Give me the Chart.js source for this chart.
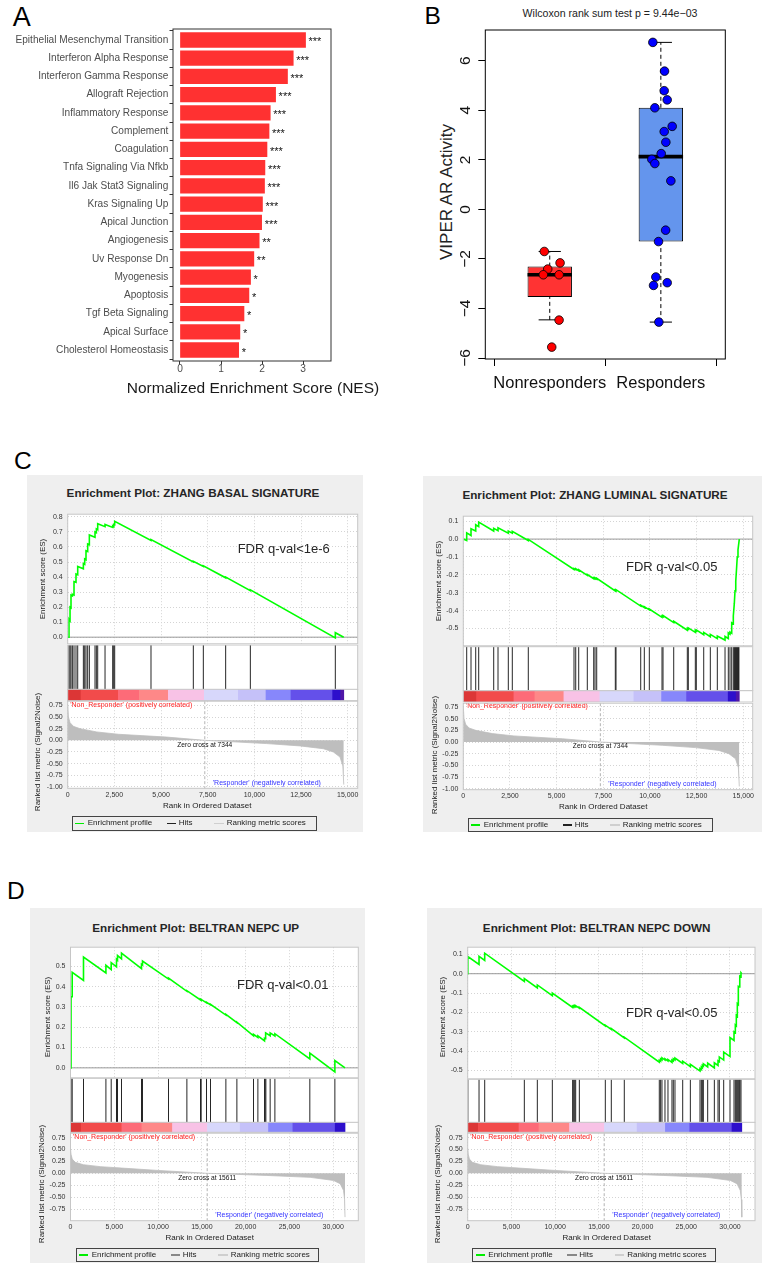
<!DOCTYPE html>
<html><head><meta charset="utf-8">
<script src="https://cdn.jsdelivr.net/npm/chart.js@4.4.1/dist/chart.umd.min.js"></script>
<style>
html,body{margin:0;padding:0;background:#fff;}
#root{position:relative;width:762px;height:1263px;overflow:hidden;font-family:"Liberation Sans",Arial,Helvetica,sans-serif;}
canvas{position:absolute;}
.t{position:absolute;white-space:nowrap;line-height:1;transform:translate(-50%,-50%);}
.bg{position:absolute;background:#efefef;}
.lg{position:absolute;border:1px solid #444;box-sizing:border-box;}
.lg .ln{position:absolute;height:1.6px;width:9.3px;top:50%;margin-top:-0.8px;}
.lg .lt{position:absolute;top:50%;transform:translateY(-50%);font-size:8px;line-height:1;color:#222;white-space:nowrap;}
</style></head><body><div id="root"></div>
<script>
// ---------------- DATA ----------------
const NES_CATEGORIES = ['Epithelial Mesenchymal Transition','Interferon Alpha Response','Interferon Gamma Response','Allograft Rejection','Inflammatory Response','Complement','Coagulation','Tnfa Signaling Via Nfkb','Il6 Jak Stat3 Signaling','Kras Signaling Up','Apical Junction','Angiogenesis','Uv Response Dn','Myogenesis','Apoptosis','Tgf Beta Signaling','Apical Surface','Cholesterol Homeostasis'];
const NES_VALUES = [3.06,2.76,2.62,2.33,2.20,2.17,2.12,2.07,2.06,2.01,1.99,1.93,1.80,1.72,1.68,1.56,1.46,1.43];
const NES_STARS = ['***','***','***','***','***','***','***','***','***','***','***','**','**','*','*','*','*','*'];
const NES_TICKS = [0,1,2,3];

const GROUPS = ['Nonresponders','Responders'];
const VIPER_TICKS = [-6,-4,-2,0,2,4,6];
// [jittered x, VIPER AR activity]
const NONRESP_POINTS = [[0.951,-1.70],[1.093,-2.16],[0.982,-2.41],[0.942,-2.64],[1.084,-2.64],[1.084,-4.47],[1.018,-5.56]];
const RESP_POINTS = [[1.928,6.74],[2.033,5.58],[2.030,4.79],[2.057,4.42],[1.946,4.10],[2.102,3.35],[2.030,3.14],[2.045,2.71],[2.003,2.25],[1.919,2.02],[1.946,1.85],[2.090,1.15],[2.043,-0.84],[1.979,-1.30],[1.955,-2.73],[1.934,-3.07],[2.057,-2.96],[1.982,-4.55]];
// [lower whisker, Q1, median, Q3, upper whisker]
const NONRESP_BOX = [-4.46,-3.54,-2.64,-2.31,-1.70];
const RESP_BOX = [-4.55,-1.30,2.13,4.10,6.74];

// GSEA running enrichment score: [rank, ES]
const BASAL_ES = [[0,0],[70,0],[70,0.12],[125,0.11],[125,0.2],[177,0.195],[177,0.28],[250,0.275],[250,0.285],[338,0.28],[338,0.37],[445,0.365],[445,0.42],[536,0.415],[536,0.47],[839,0.455],[839,0.49],[911,0.485],[911,0.52],[980,0.515],[980,0.575],[1070,0.57],[1070,0.62],[1160,0.615],[1160,0.68],[1463,0.665],[1463,0.7],[1535,0.695],[1535,0.72],[1607,0.715],[1607,0.755],[2000,0.735],[2000,0.75],[2410,0.73],[2410,0.74],[2464,0.735],[2464,0.75],[2517,0.748],[2517,0.77],[4462,0.643],[4462,0.65],[6730,0.5],[6730,0.505],[7266,0.47],[7266,0.475],[8462,0.395],[8462,0.4],[9785,0.31],[9785,0.315],[14337,-0.005],[14337,0.03],[14786,0]];
const BASAL_HITS = [70,125,177,250,338,445,536,839,911,980,1070,1160,1463,1535,1607,2000,2410,2464,2517,4462,6730,7266,8462,9785,14337];

const LUMINAL_ES = [[0,0],[182,-0.008],[182,0.035],[413,0.02],[413,0.058],[665,0.045],[665,0.08],[825,0.07],[825,0.095],[1629,0.045],[1629,0.06],[1860,0.047],[1860,0.063],[2412,0.033],[2412,0.045],[2626,0.033],[2626,0.043],[3483,-0.008],[3483,-0.002],[5932,-0.17],[5932,-0.165],[6024,-0.171],[6024,-0.166],[6184,-0.177],[6184,-0.172],[6645,-0.203],[6645,-0.198],[6988,-0.222],[6988,-0.217],[7058,-0.222],[7058,-0.217],[7149,-0.224],[7149,-0.219],[8146,-0.29],[8146,-0.285],[8183,-0.288],[8183,-0.283],[9507,-0.375],[9507,-0.37],[9700,-0.383],[9700,-0.378],[9968,-0.396],[9968,-0.391],[10648,-0.438],[10648,-0.43],[10702,-0.434],[10702,-0.428],[11275,-0.467],[11275,-0.46],[12004,-0.51],[12004,-0.5],[12058,-0.504],[12058,-0.497],[12433,-0.522],[12433,-0.511],[12486,-0.515],[12486,-0.508],[12883,-0.535],[12883,-0.522],[13237,-0.546],[13237,-0.533],[13612,-0.557],[13612,-0.542],[14025,-0.565],[14025,-0.545],[14201,-0.556],[14201,-0.525],[14292,-0.532],[14292,-0.52],[14383,-0.527],[14383,-0.468],[14469,-0.474],[14469,-0.43],[14523,-0.36],[14560,-0.29],[14600,-0.235],[14640,-0.17],[14680,-0.1],[14720,-0.06],[14760,-0.025],[14790,0]];
const LUMINAL_HITS = [182,413,665,825,1629,1860,2412,2626,3483,5932,6024,6184,6645,6988,7058,7149,8146,8183,9507,9700,9968,10648,10702,11275,12004,12058,12433,12486,12883,13237,13612,14025,14201,14292,14383,14469,14523,14548,14573,14598,14623,14648,14673,14698,14723,14748,14770];

const NEPC_UP_ES = [[0,0],[60,0],[60,0.35],[194,0.35],[194,0.47],[1485,0.43],[1485,0.545],[4043,0.467],[4043,0.505],[4648,0.484],[4648,0.518],[5253,0.497],[5253,0.535],[5367,0.53],[5367,0.553],[5824,0.537],[5824,0.565],[8108,0.489],[8108,0.51],[8222,0.507],[8222,0.526],[11192,0.437],[11192,0.442],[13290,0.377],[13290,0.38],[14846,0.334],[14846,0.337],[14922,0.334],[14922,0.337],[15531,0.32],[15531,0.323],[15988,0.31],[15988,0.313],[17743,0.26],[17743,0.263],[19000,0.222],[19000,0.225],[20899,0.158],[20899,0.165],[21398,0.15],[21398,0.158],[22155,0.133],[22155,0.145],[22230,0.143],[22230,0.16],[22310,0.158],[22310,0.172],[22800,0.158],[22800,0.172],[23340,0.157],[23340,0.168],[27330,0.044],[27330,0.073],[30190,-0.02],[30190,0.036],[31350,0]];
const NEPC_UP_HITS = [60,194,1485,4043,4648,5253,5367,5824,8108,8222,11192,13290,14846,14922,15531,15988,17743,19000,20899,21398,22155,22230,22310,22800,23340,27330,30190];

const NEPC_DOWN_ES = [[0,0],[20,0],[20,0.089],[1296,0.048],[1296,0.09],[1944,0.069],[1944,0.106],[6477,-0.04],[6477,-0.025],[7964,-0.073],[7964,-0.058],[9680,-0.113],[9680,-0.1],[12000,-0.174],[12000,-0.168],[12120,-0.172],[12120,-0.166],[12237,-0.17],[12237,-0.165],[12350,-0.169],[12350,-0.165],[12770,-0.178],[12770,-0.174],[15740,-0.27],[15740,-0.266],[16425,-0.288],[16425,-0.284],[17910,-0.332],[17910,-0.328],[21914,-0.457],[21914,-0.447],[22067,-0.452],[22067,-0.44],[22220,-0.445],[22220,-0.435],[22563,-0.446],[22563,-0.44],[22906,-0.451],[22906,-0.443],[23363,-0.458],[23363,-0.446],[23516,-0.451],[23516,-0.44],[23707,-0.446],[23707,-0.436],[24590,-0.464],[24590,-0.452],[25466,-0.48],[25466,-0.468],[26570,-0.503],[26570,-0.49],[26723,-0.495],[26723,-0.482],[26838,-0.486],[26838,-0.474],[26952,-0.478],[26952,-0.466],[27448,-0.482],[27448,-0.462],[28210,-0.487],[28210,-0.46],[28630,-0.474],[28630,-0.45],[28780,-0.455],[28780,-0.43],[29278,-0.446],[29278,-0.405],[30000,-0.428],[30000,-0.33],[30460,-0.345],[30460,-0.3],[30610,-0.305],[30610,-0.265],[30724,-0.27],[30724,-0.215],[30838,-0.22],[30838,-0.155],[30953,-0.16],[30953,-0.065],[31067,-0.068],[31067,-0.045],[31143,-0.047],[31143,-0.012],[31258,-0.015],[31258,0.005],[31350,0]];
const NEPC_DOWN_HITS = [20,1296,1944,6477,7964,9680,12000,12120,12237,12350,12770,15740,16425,17910,21914,22067,22220,22563,22906,23363,23516,23707,24590,25466,26570,26723,26838,26952,27448,28210,28630,28780,29278,30000,30460,30610,30724,30838,30953,31067,31143,31258];

// Ranked list metric (Signal2Noise): [rank, metric]
const RANK_METRIC_C = [[0,0.75],[40,0.5],[125,0.38],[304,0.3],[661,0.25],[1554,0.18],[2712,0.13],[5302,0.07],[7344,0],[10660,-0.07],[12446,-0.12],[13696,-0.18],[14232,-0.25],[14590,-0.36],[14740,-0.55],[14790,-0.95]];
const RANK_METRIC_D = [[0,0.52],[60,0.4],[194,0.3],[537,0.23],[1488,0.18],[3391,0.14],[5866,0.11],[10005,0.06],[15611,0],[22420,-0.045],[27375,-0.085],[30040,-0.15],[30800,-0.22],[31180,-0.36],[31300,-0.55],[31350,-0.92]];
const ZERO_CROSS_C = 7344;
const ZERO_CROSS_D = 15611;
const RANK_TICKS_C = [0,2500,5000,7500,10000,12500,15000];
const RANK_TICKS_D = [0,5000,10000,15000,20000,25000,30000];
// heat bar segment edges (rank) and colours
const COLORBAR_C_EDGES = [0,714,2712,3837,5391,7319,9141,10623,11962,14194,14623,14790];
const COLORBAR_D_EDGES = [0,1222,5868,8152,11648,15645,19380,22610,25397,30228,31350];
const COLORBAR_COLORS = ['#dc3636','#f24b4b','#fd6b78','#fe8888','#f8c2e6','#d7d7fb','#c5c1f9','#8787fb','#6450ea','#2d0fcc','#4f16a6'];

// ---------------- SETUP ----------------
const FONT = '"Liberation Sans", Arial, Helvetica, sans-serif';
Chart.defaults.font.family = FONT;
Chart.defaults.color = '#333';
Chart.defaults.animation = false;
Chart.defaults.responsive = false;
Chart.defaults.maintainAspectRatio = false;
Chart.defaults.devicePixelRatio = 1;
Chart.defaults.plugins.legend.display = false;
Chart.defaults.plugins.tooltip.enabled = false;
Chart.defaults.events = [];

const root = document.getElementById('root');
const fixTicks = arr => s => { s.ticks = arr.map(v => ({value: v})); };
function mk(b, cfg) {
  const c = document.createElement('canvas');
  c.width = b.w; c.height = b.h;
  c.style.left = b.x + 'px'; c.style.top = b.y + 'px';
  c.style.width = b.w + 'px'; c.style.height = b.h + 'px';
  root.appendChild(c);
  return new Chart(c.getContext('2d'), cfg);
}
function box(l, t, r, b, ml, mt, mr, mb) {
  const x = Math.floor(l - ml), y = Math.floor(t - mt);
  const w = Math.ceil(r + mr) - x, h = Math.ceil(b + mb) - y;
  return {x, y, w, h, L: l - x, T: t - y, R: x + w - r, B: y + h - b};
}
function T(str, cx, cy, size, o = {}) {
  const d = document.createElement('div');
  d.className = 't'; d.textContent = str;
  d.style.left = cx + 'px'; d.style.top = cy + 'px'; d.style.fontSize = size + 'px';
  d.style.color = o.color || '#222';
  if (o.bold) d.style.fontWeight = 'bold';
  if (o.rot) d.style.transform = 'translate(-50%,-50%) rotate(-90deg)';
  root.appendChild(d);
}
function BG(l, t, r, b) {
  const d = document.createElement('div');
  d.className = 'bg';
  d.style.left = l + 'px'; d.style.top = t + 'px';
  d.style.width = (r - l) + 'px'; d.style.height = (b - t) + 'px';
  root.appendChild(d);
}
function LEGEND(l, t, r, b, hitColor) {
  const d = document.createElement('div');
  d.className = 'lg';
  d.style.left = l + 'px'; d.style.top = t + 'px';
  d.style.width = (r - l) + 'px'; d.style.height = (b - t) + 'px';
  const items = [['#00ee00', 2.3, 'Enrichment profile', 15], [hitColor, 94, 'Hits', 106], ['#cfcfcf', 141.6, 'Ranking metric scores', 154]];
  items.forEach(([col, lx, txt, tx]) => {
    const ln = document.createElement('div'); ln.className = 'ln';
    ln.style.left = lx + 'px'; ln.style.background = col; d.appendChild(ln);
    const s = document.createElement('div'); s.className = 'lt';
    s.style.left = tx + 'px'; s.textContent = txt; d.appendChild(s);
  });
  root.appendChild(d);
}
const frame = (color, lw = 1) => ({
  id: 'frame',
  afterDraw(c) {
    const a = c.chartArea, x = c.ctx;
    x.save(); x.strokeStyle = color; x.lineWidth = lw;
    x.strokeRect(a.left, a.top, a.right - a.left, a.bottom - a.top);
    x.restore();
  }
});
const whiteBg = {
  id: 'whiteBg',
  beforeDraw(c) {
    const a = c.chartArea, x = c.ctx;
    x.save(); x.fillStyle = '#fff';
    x.fillRect(a.left, a.top, a.right - a.left, a.bottom - a.top);
    x.restore();
  }
};
const zeroLine = {
  id: 'zeroLine',
  beforeDatasetsDraw(c) {
    const a = c.chartArea, x = c.ctx, py = c.scales.y.getPixelForValue(0);
    x.save(); x.strokeStyle = '#9a9a9a'; x.lineWidth = 1;
    x.beginPath(); x.moveTo(a.left, py); x.lineTo(a.right, py); x.stroke();
    x.restore();
  }
};

// ---------------- PANEL A ----------------
T('A', 21.8, 16.7, 27, {color: '#000'});
const stars = {
  id: 'stars',
  afterDatasetsDraw(c) {
    const m = c.getDatasetMeta(0), x = c.ctx;
    x.save(); x.font = '11px ' + FONT; x.fillStyle = '#111';
    x.textBaseline = 'middle'; x.textAlign = 'left';
    m.data.forEach((el, i) => x.fillText(NES_STARS[i], el.x + 3, el.y + 2.5));
    x.restore();
  }
};
const aB = box(173, 29, 331, 361, 173, 29, 49, 39);
mk(aB, {
  type: 'bar',
  data: {datasets: [{data: NES_VALUES.map((v, i) => ({x: v, y: i})), backgroundColor: '#ff3131', barThickness: 14.7, borderWidth: 0}]},
  options: {
    indexAxis: 'y',
    layout: {padding: {left: 0, top: aB.T, right: aB.R, bottom: aB.B - 20}},
    scales: {
      x: {type: 'linear', min: -0.17, max: 3.68, afterBuildTicks: fixTicks(NES_TICKS),
        ticks: {padding: -1, font: {size: 10.2}, color: '#4d4d4d', maxRotation: 0},
        grid: {drawOnChartArea: false, tickLength: 3.5, color: '#333'}, border: {display: false},
        afterFit: s => { s.height = 20; }},
      y: {type: 'linear', reverse: true, min: -0.6, max: 17.6, offset: false,
        afterBuildTicks: fixTicks(NES_CATEGORIES.map((c, i) => i)),
        ticks: {padding: 1.2, autoSkip: false, font: {size: 10.1}, color: '#4d4d4d', callback: v => NES_CATEGORIES[v] ?? ''},
        grid: {drawOnChartArea: false, tickLength: 3.5, color: '#333'}, border: {display: false},
        afterFit: s => { s.width = aB.L; }}
    }
  },
  plugins: [frame('#333'), stars]
});
T('Normalized Enrichment Score (NES)', 253, 388, 15.5, {color: '#1a1a1a'});

// ---------------- PANEL B ----------------
T('B', 432.7, 15.8, 24.5, {color: '#000'});
T('Wilcoxon rank sum test p = 9.44e\u221203', 610, 13.3, 10.6, {color: '#222'});
T('VIPER AR Activity', 446, 192, 17, {color: '#222', rot: true});
const yRotTicks = {
  id: 'yRotTicks',
  afterDraw(c) {
    const ys = c.scales.y, x = c.ctx, px = c.chartArea.left - 19.6;
    x.save(); x.font = '15.5px ' + FONT; x.fillStyle = '#111';
    x.textAlign = 'center'; x.textBaseline = 'middle';
    ys.ticks.forEach(t => {
      x.save(); x.translate(px, ys.getPixelForValue(t.value)); x.rotate(-Math.PI / 2);
      x.fillText(String(t.value).replace('-', '\u2212'), 0, 0);
      x.restore();
    });
    x.restore();
  }
};
const HALF_BOX = 0.2, HALF_STAPLE = 0.1;
const boxStats = [NONRESP_BOX, RESP_BOX];
const seg = (pts, o) => Object.assign({type: 'line', data: pts.map(p => ({x: p[0], y: p[1]})), borderColor: '#000', borderWidth: 1, pointRadius: 0, fill: false, tension: 0}, o);
const bDatasets = [
  {type: 'scatter', data: NONRESP_POINTS.map(p => ({x: p[0], y: p[1]})), backgroundColor: '#ff0000', borderColor: '#000', borderWidth: 0.8, pointRadius: 4.3, order: 0},
  {type: 'scatter', data: RESP_POINTS.map(p => ({x: p[0], y: p[1]})), backgroundColor: '#0000ff', borderColor: '#000', borderWidth: 0.8, pointRadius: 4.3, order: 0}
];
boxStats.forEach((s, i) => {
  const g = i + 1;
  bDatasets.push(seg([[g - HALF_BOX, s[2]], [g + HALF_BOX, s[2]]], {borderWidth: 3.6, order: 1}));
  bDatasets.push(seg([[g, s[0]], [g, s[1]]], {borderDash: [4, 3], order: 2}));
  bDatasets.push(seg([[g, s[3]], [g, s[4]]], {borderDash: [4, 3], order: 2}));
  bDatasets.push(seg([[g - HALF_STAPLE, s[0]], [g + HALF_STAPLE, s[0]]], {order: 2}));
  bDatasets.push(seg([[g - HALF_STAPLE, s[4]], [g + HALF_STAPLE, s[4]]], {order: 2}));
});
bDatasets.push({type: 'bar', data: boxStats.map((s, i) => ({x: i + 1, y: [s[1], s[3]]})), backgroundColor: ['#ff3333', '#6495ed'], borderColor: '#000', borderWidth: 1, borderSkipped: false, inflateAmount: 0, barThickness: 44.4, order: 3});
const bB = box(485.3, 30, 725.3, 359, 105.3, 30, 36.7, 41);
const XHB = 36;
mk(bB, {
  type: 'bar',
  data: {datasets: bDatasets},
  options: {
    layout: {padding: {left: 0, top: bB.T, right: bB.R, bottom: bB.B - XHB}},
    scales: {
      x: {type: 'linear', min: 0.42, max: 2.58, offset: false,
        afterBuildTicks: fixTicks(GROUPS.map((g, i) => i + 1)),
        ticks: {padding: 8, font: {size: 16.5}, color: '#111', autoSkip: false, maxRotation: 0, callback: v => GROUPS[Math.round(v) - 1]},
        grid: {drawOnChartArea: false, tickLength: 7, color: '#000'}, border: {display: false},
        afterFit: s => { s.height = XHB; }},
      y: {type: 'linear', min: -6.04, max: 7.24, afterBuildTicks: fixTicks(VIPER_TICKS),
        ticks: {display: false},
        grid: {drawOnChartArea: false, tickLength: 7, color: '#000'}, border: {display: false},
        afterFit: s => { s.width = bB.L; }}
    }
  },
  plugins: [frame('#000'), yRotTicks]
});

// ---------------- GSEA PANELS ----------------
const GRID = '#d4d4d4';
function gsea(g) {
  const F7 = {size: 7};
  // running ES
  const e = box(g.left, g.esTop, g.right, g.esBot, 40, 8, 24, 8);
  mk(e, {
    type: 'line',
    data: {datasets: [{data: g.es.map(p => ({x: p[0], y: p[1]})), borderColor: '#00ff00', borderWidth: 1.6, pointRadius: 0, tension: 0, fill: false}]},
    options: {
      layout: {padding: {left: 0, top: e.T, right: e.R, bottom: e.B}},
      scales: {
        x: {type: 'linear', min: 0, max: g.xmax, afterBuildTicks: fixTicks(g.xTicks), ticks: {display: false}, grid: {color: GRID, drawTicks: false}, border: {display: false, dash: [1, 2]}, afterFit: s => { s.height = 0; }},
        y: {type: 'linear', min: g.esMin, max: g.esMax, ticks: {stepSize: 0.1, includeBounds: false, padding: 5, font: F7, color: '#333', callback: v => v.toFixed(1)}, grid: {color: GRID, drawTicks: false}, border: {display: false, dash: [1, 2]}, afterFit: s => { s.width = e.L; }}
      }
    },
    plugins: [whiteBg, zeroLine, frame('#c6c6c6')]
  });
  // hits
  const h = box(g.left, g.esBot, g.right, g.hitsBot, 40, 0, 24, 0);
  mk(h, {
    type: 'bar',
    data: {datasets: [{data: g.hits.map(r => ({x: r, y: 1})), backgroundColor: '#262626', barThickness: 1, inflateAmount: 0, borderWidth: 0}]},
    options: {
      layout: {padding: {left: h.L, top: h.T, right: h.R, bottom: h.B}},
      scales: {x: {type: 'linear', display: false, min: 0, max: g.xmax, offset: false}, y: {type: 'linear', display: false, min: 0, max: 1}}
    },
    plugins: [whiteBg, frame('#c6c6c6')]
  });
  // heat bar
  const cb = box(g.left, g.hitsBot, g.right, g.cbBot, 40, 0, 24, 0);
  const segs = g.edges.slice(0, -1).map((s, i) => ({x: [s, g.edges[i + 1]], y: 0.5}));
  mk(cb, {
    type: 'bar',
    data: {datasets: [{data: segs, backgroundColor: COLORBAR_COLORS.slice(0, segs.length), barThickness: g.cbBot - g.hitsBot, borderWidth: 0}]},
    options: {
      indexAxis: 'y',
      layout: {padding: {left: cb.L, top: cb.T, right: cb.R, bottom: cb.B}},
      scales: {x: {type: 'linear', display: false, min: 0, max: g.xmax}, y: {type: 'linear', display: false, min: 0, max: 1, offset: false}}
    },
    plugins: [whiteBg, frame('#c6c6c6')]
  });
  // ranked list metric
  const XH = 12;
  const rk = box(g.left, g.cbBot, g.right, g.rankBot, 40, 8, 24, 8 + XH);
  const rankText = {
    id: 'rankText',
    beforeDatasetsDraw(c) {
      const a = c.chartArea, x = c.ctx, zx = c.scales.x.getPixelForValue(g.zero);
      x.save(); x.strokeStyle = '#a0a0a0'; x.lineWidth = 0.8; x.setLineDash([3, 2]);
      x.beginPath(); x.moveTo(zx, a.top); x.lineTo(zx, a.bottom); x.stroke();
      x.restore();
    },
    afterDatasetsDraw(c) {
      const a = c.chartArea, x = c.ctx, ys = c.scales.y, zx = c.scales.x.getPixelForValue(g.zero);
      x.save(); x.textBaseline = 'middle';
      x.font = '7px ' + FONT; x.fillStyle = '#ff2424'; x.textAlign = 'left';
      x.fillText("'Non_Responder' (positively correlated)", a.left + 2.5, ys.getPixelForValue(0.75) - 0.5);
      x.font = '6.6px ' + FONT; x.fillStyle = '#111'; x.textAlign = 'center';
      x.fillText('Zero cross at ' + g.zero, zx, ys.getPixelForValue(0) + 4.5);
      x.font = '7px ' + FONT; x.fillStyle = '#3434ff'; x.textAlign = 'left';
      x.fillText("'Responder' (negatively correlated)", zx + 8, a.bottom - 5.5);
      x.restore();
    }
  };
  mk(rk, {
    type: 'line',
    data: {datasets: [{data: g.rank.map(p => ({x: p[0], y: p[1]})), borderColor: '#bebebe', backgroundColor: '#bebebe', borderWidth: 0.8, pointRadius: 0, tension: 0, fill: 'origin'}]},
    options: {
      layout: {padding: {left: 0, top: rk.T, right: rk.R, bottom: rk.B - XH}},
      scales: {
        x: {type: 'linear', min: 0, max: g.xmax, afterBuildTicks: fixTicks(g.xTicks), ticks: {padding: 2.5, font: F7, color: '#333', maxRotation: 0, autoSkip: false, callback: v => v.toLocaleString('en-US')}, grid: {color: GRID, drawTicks: false}, border: {display: false, dash: [1, 2]}, afterFit: s => { s.height = XH; }},
        y: {type: 'linear', min: g.rankMin, max: g.rankMax, ticks: {stepSize: 0.25, includeBounds: false, padding: 5, font: F7, color: '#333', callback: v => v.toFixed(2)}, grid: {color: GRID, drawTicks: false}, border: {display: false, dash: [1, 2]}, afterFit: s => { s.width = rk.L; }}
      }
    },
    plugins: [whiteBg, rankText, frame('#c6c6c6')]
  });
}

// backgrounds
BG(26.7, 475, 363.3, 831.7);
BG(422.7, 476, 762, 832.3);
BG(30, 908.3, 365, 1263);
BG(426.7, 908.3, 762, 1263);

const CL = {left: 67.7, right: 357.7, xmax: 15536, xTicks: RANK_TICKS_C, esTop: 513.3, esBot: 645, esMin: -0.044, esMax: 0.818, hitsBot: 689.3, cbBot: 700.7, rankBot: 788.3, rankMin: -1.03, rankMax: 0.84, zero: ZERO_CROSS_C, es: BASAL_ES, hits: BASAL_HITS, edges: COLORBAR_C_EDGES, rank: RANK_METRIC_C};
const CR = {left: 463.3, right: 752.7, xmax: 15508, xTicks: RANK_TICKS_C, esTop: 515, esBot: 646.7, esMin: -0.597, esMax: 0.128, hitsBot: 690.7, cbBot: 702, rankBot: 789.7, rankMin: -1.02, rankMax: 0.83, zero: ZERO_CROSS_C, es: LUMINAL_ES, hits: LUMINAL_HITS, edges: COLORBAR_C_EDGES, rank: RANK_METRIC_C};
const DL = {left: 70.5, right: 358.3, xmax: 32866, xTicks: RANK_TICKS_D, esTop: 946.7, esBot: 1078.3, esMin: -0.049, esMax: 0.594, hitsBot: 1122.3, cbBot: 1132.3, rankBot: 1220.7, rankMin: -0.995, rankMax: 0.842, zero: ZERO_CROSS_D, es: NEPC_UP_ES, hits: NEPC_UP_HITS, edges: COLORBAR_D_EDGES, rank: RANK_METRIC_D};
const DR = {left: 467.7, right: 755, xmax: 32860, xTicks: RANK_TICKS_D, esTop: 946.7, esBot: 1079.3, esMin: -0.543, esMax: 0.137, hitsBot: 1122.3, cbBot: 1132.3, rankBot: 1220.7, rankMin: -0.995, rankMax: 0.842, zero: ZERO_CROSS_D, es: NEPC_DOWN_ES, hits: NEPC_DOWN_HITS, edges: COLORBAR_D_EDGES, rank: RANK_METRIC_D};
[CL, CR, DL, DR].forEach(gsea);

// texts for C / D
T('C', 22.8, 461, 24.5, {color: '#000'});
T('D', 15.8, 890.5, 24.5, {color: '#000'});
T('Enrichment Plot: ZHANG BASAL SIGNATURE', 193, 493.3, 11.7, {bold: true, color: '#262626'});
T('Enrichment Plot: ZHANG LUMINAL SIGNATURE', 595, 495, 11.7, {bold: true, color: '#262626'});
T('Enrichment Plot: BELTRAN NEPC UP', 195.7, 927.7, 11.7, {bold: true, color: '#262626'});
T('Enrichment Plot: BELTRAN NEPC DOWN', 596.7, 927.7, 11.7, {bold: true, color: '#262626'});
T('FDR q-val<1e-6', 283.7, 548, 13, {color: '#262626'});
T('FDR q-val<0.05', 671.7, 566, 13, {color: '#262626'});
T('FDR q-val<0.01', 282.7, 984.3, 13, {color: '#262626'});
T('FDR q-val<0.05', 671.7, 1012.3, 13, {color: '#262626'});
[[43.3, 579], [438.7, 580.8], [48.3, 1016.5], [442.7, 1016.7]].forEach(p => T('Enrichment score (ES)', p[0], p[1], 8, {rot: true, color: '#222'}));
[[38.3, 752], [435, 755], [41.7, 1184], [438.3, 1184]].forEach(p => T('Ranked list metric (Signal2Noise)', p[0], p[1], 8, {rot: true, color: '#222'}));
[[207.2, 805.7], [603.2, 806.7], [209.8, 1237.7], [606.7, 1237.7]].forEach(p => T('Rank in Ordered Dataset', p[0], p[1], 8, {color: '#222'}));
LEGEND(71.7, 816, 317.3, 830.7, '#222');
LEGEND(467.7, 818, 713.3, 831.7, '#222');
LEGEND(75.7, 1247.7, 319.3, 1262.3, '#888');
LEGEND(472.3, 1247.7, 716, 1262.3, '#888');
</script></body></html>
